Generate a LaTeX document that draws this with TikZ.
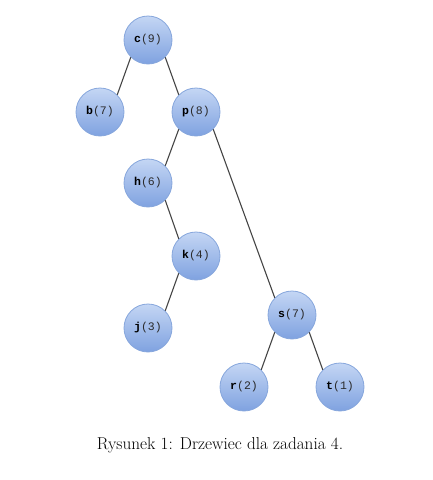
\documentclass[tikz,border=0pt]{standalone}
\usepackage{fontspec}
\newfontfamily\nodemono{Liberation Mono}
\usetikzlibrary{shadings}
\definecolor{nodetop}{HTML}{C4D6F4}
\definecolor{nodebot}{HTML}{7FA2E0}
\definecolor{nodeborder}{HTML}{86A6DC}
\definecolor{edgecol}{HTML}{454545}
\definecolor{numcol}{HTML}{2A2A2A}
\tikzset{
  treenode/.style={circle, minimum size=48pt, inner sep=0pt, draw=nodeborder, line width=0.8pt,
    top color=nodetop, bottom color=nodebot, font=\nodemono\fontsize{11.5}{12}\selectfont},
  treeedge/.style={draw=edgecol, line width=1.1pt}
}
\newcommand{\lbl}[2]{\textbf{#1}\textcolor{numcol}{(#2)}}
\begin{document}
\begin{tikzpicture}[x=1pt,y=-1pt]
\useasboundingbox (0,0) rectangle (433,480);
\node[treenode] (c) at (148,40) {\lbl{c}{9}};
\node[treenode] (b) at (100,112) {\lbl{b}{7}};
\node[treenode] (p) at (196,112) {\lbl{p}{8}};
\node[treenode] (h) at (148,183) {\lbl{h}{6}};
\node[treenode] (k) at (196,256) {\lbl{k}{4}};
\node[treenode] (j) at (148,328) {\lbl{j}{3}};
\node[treenode] (s) at (292,315) {\lbl{s}{7}};
\node[treenode] (r) at (244,387) {\lbl{r}{2}};
\node[treenode] (t) at (340,387) {\lbl{t}{1}};
\draw[treeedge] (c.south west) -- (b.north east);
\draw[treeedge] (c.south east) -- (p.north west);
\draw[treeedge] (p.south west) -- (h.north east);
\draw[treeedge] (p.south east) -- (s.north west);
\draw[treeedge] (h.south east) -- (k.north west);
\draw[treeedge] (k.south west) -- (j.north east);
\draw[treeedge] (s.south west) -- (r.north east);
\draw[treeedge] (s.south east) -- (t.north west);
\node[font=\fontsize{17.2}{20}\selectfont] (cap) at (220,445) {Rysunek 1: Drzewiec dla zadania 4.};
\end{tikzpicture}
\end{document}
